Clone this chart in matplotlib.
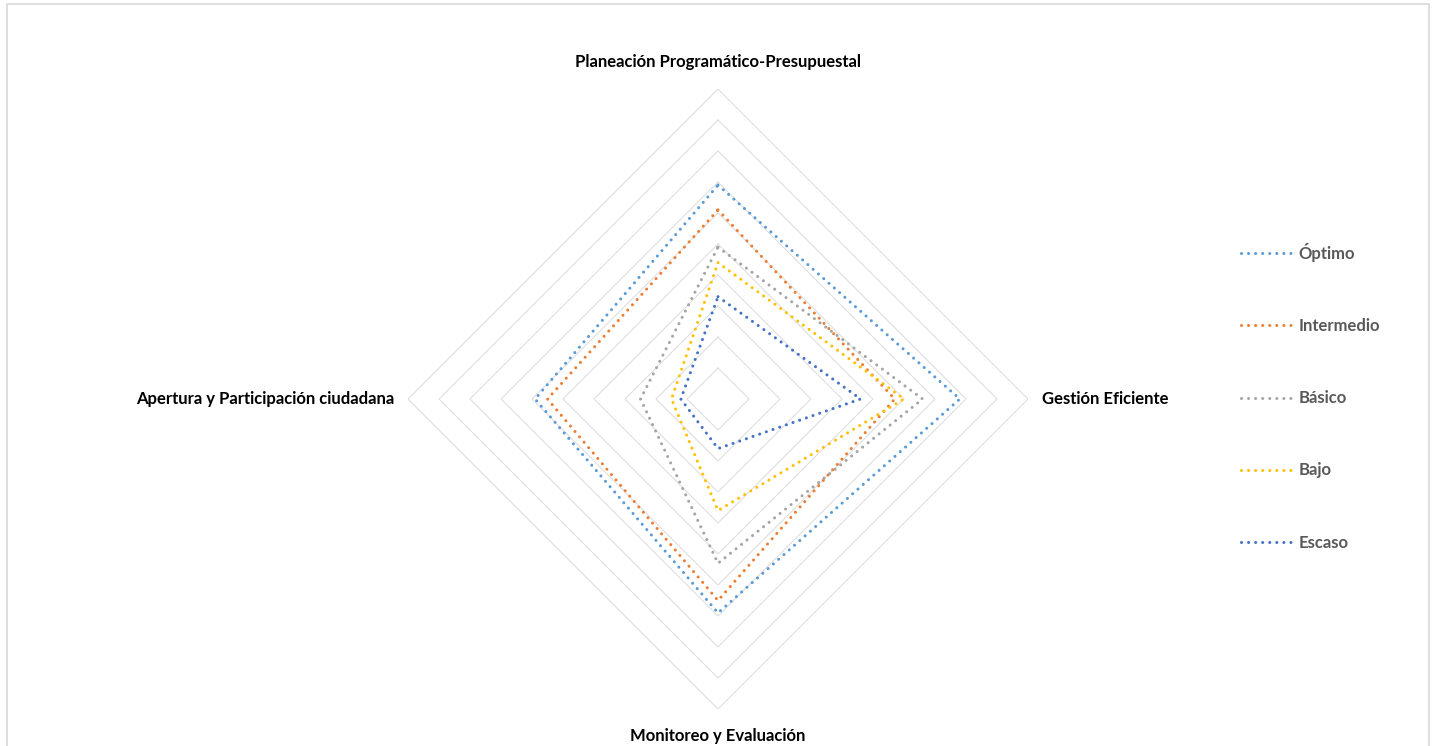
import numpy as np
import matplotlib
matplotlib.use('Agg')
import matplotlib.pyplot as plt
from matplotlib.patches import Rectangle

plt.rcParams['font.family'] = ['Lato', 'DejaVu Sans']

# Axes of the radar (clockwise from the top)
categories = ['Planeación Programático-Presupuestal', 'Gestión Eficiente',
              'Monitoreo y Evaluación', 'Apertura y Participación ciudadana']

# Series values (scale 0-100)
optimo = [69, 78, 69, 59]
intermedio = [61, 57, 65, 55]
basico = [49, 66, 53, 25]
bajo = [44, 60, 36, 15]
escaso = [33, 46, 16, 12]

series_names = ['Óptimo', 'Intermedio', 'Básico', 'Bajo', 'Escaso']
series_values = [optimo, intermedio, basico, bajo, escaso]
colors = ['#5B9BD5', '#ED7D31', '#A5A5A5', '#FFC000', '#4472C4']

grid_levels = np.arange(10, 101, 10)

W, H = 1433, 746
fig = plt.figure(figsize=(W / 100, H / 100), dpi=100)

# outer light border like the Excel chart area
fig.patches.append(Rectangle((6.5 / W, -0.01), (1429 - 6.5) / W, (H - 3.5) / H + 0.01,
                             transform=fig.transFigure, fill=False,
                             edgecolor='#D9D9D9', linewidth=1.2))

cx, cy, rad = 718, H - 399, 310
ax = fig.add_axes([(cx - rad) / W, (cy - rad) / H, 2 * rad / W, 2 * rad / H],
                  projection='polar')
ax.set_theta_offset(np.pi / 2)
ax.set_theta_direction(-1)
ax.set_ylim(0, 100)
ax.grid(False)
ax.spines['polar'].set_visible(False)
ax.set_xticks([])
ax.set_yticks([])
ax.patch.set_alpha(0)

n = len(categories)
angles = np.linspace(0, 2 * np.pi, n, endpoint=False)
closed = np.append(angles, angles[0])

# polygonal gridlines
for lv in grid_levels:
    ax.plot(closed, [lv] * (n + 1), color='#DDDDDD', linewidth=0.75, zorder=1)

lines = []
for name, vals, col in zip(series_names, series_values, colors):
    v = np.append(vals, vals[0])
    ln, = ax.plot(closed, v, color=col, linewidth=2.2,
                  linestyle=(0, (0.01, 2.3)), dash_capstyle='round',
                  label=name, zorder=3)
    lines.append(ln)

# category labels
lab_kw = dict(fontsize=12, fontweight='bold', color='#000000', clip_on=False)
ax.text(angles[0], 108.7, categories[0], ha='center', va='center', **lab_kw)
ax.text(angles[1], 104.5, categories[1], ha='left', va='center', **lab_kw)
ax.text(angles[2], 108.7, categories[2], ha='center', va='center', **lab_kw)
ax.text(angles[3], 104.5, categories[3], ha='right', va='center', **lab_kw)

leg = fig.legend(handles=lines, loc='upper left',
                 bbox_to_anchor=(1226 / W, 1 - 228 / H),
                 frameon=False, fontsize=12, labelspacing=3.37,
                 handlelength=3.0, handletextpad=0.45)
for t in leg.get_texts():
    t.set_color('#595959')
    t.set_fontweight('bold')

fig.savefig('out.png', dpi=100)
